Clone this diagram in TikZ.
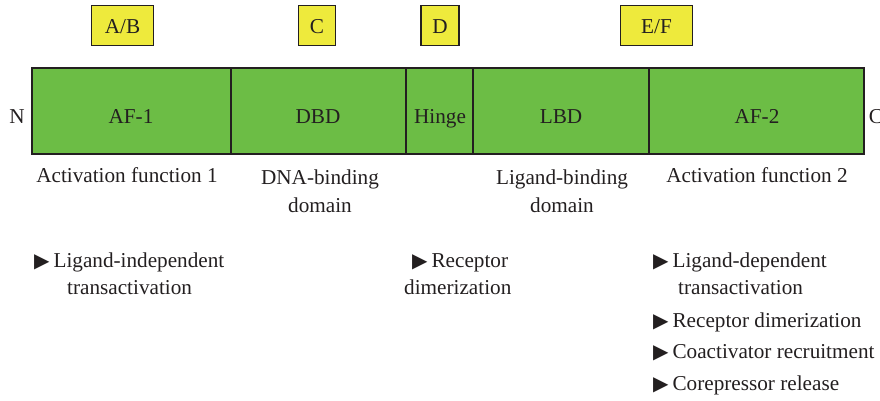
\documentclass[tikz,border=0pt]{standalone}
\usepackage{fontspec}
\setmainfont{Liberation Serif}
\newfontfamily\symfont{DejaVu Sans}
\definecolor{barG}{HTML}{6CBD45}
\definecolor{boxY}{HTML}{EEEA3C}
\definecolor{ink}{HTML}{231F20}
\newcommand{\bul}{{\symfont\fontsize{20}{20}\selectfont ▶}\hspace{4pt}}
\begin{document}
\begin{tikzpicture}[x=1pt,y=-1pt,
  every node/.style={text=ink,font=\fontsize{21.2}{25}\selectfont},
  seg/.style={draw=ink,line width=1.2pt,fill=barG,inner sep=0pt,outer sep=0pt,minimum height=86pt,anchor=north west},
  ybox/.style={draw=ink,line width=1.2pt,fill=boxY,inner sep=0pt,outer sep=0pt,minimum height=40pt,anchor=north west},
  lbl/.style={anchor=base,inner sep=0pt},
  lline/.style={anchor=base west,inner sep=0pt}]
\useasboundingbox (0,0) rectangle (880,400);
% bar segments
\node[seg,minimum width=199pt] (af1) at (32,68) {};
\node[seg,minimum width=175pt] (dbd) at (231,68) {};
\node[seg,minimum width=67pt] (hinge) at (406,68) {};
\node[seg,minimum width=176pt] (lbd) at (473,68) {};
\node[seg,minimum width=215pt] (af2) at (649,68) {};
\node[lbl] (taf1) at (131,123) {AF-1};
\node[lbl] (tdbd) at (318,123) {DBD};
\node[lbl] (thinge) at (440,123) {Hinge};
\node[lbl] (tlbd) at (561,123) {LBD};
\node[lbl] (taf2) at (757,123) {AF-2};
\node[lbl] (nterm) at (17,123) {N};
\node[lbl] (cterm) at (876,123) {C};
% yellow boxes
\node[ybox,minimum width=62pt] (ab) at (91.5,5.5) {};
\node[ybox,minimum width=37pt] (c) at (298.5,5.5) {};
\node[ybox,minimum width=38pt] (d) at (421,5.5) {};
\node[ybox,minimum width=72pt] (ef) at (620.5,5.5) {};
\node[lbl] at (ab.center|-0,33) (tab) {A/B};
\node[lbl] at (c.center|-0,33) (tc) {C};
\node[lbl] at (d.center|-0,33) (td) {D};
\node[lbl] at (ef.center|-0,33) (tef) {E/F};
% descriptions
\node[lbl] (desc1) at (127,182) {Activation function 1};
\node[lbl] (desc2a) at (320,184) {DNA-binding};
\node[lbl] (desc2b) at (320,212) {domain};
\node[lbl] (desc3a) at (562,184) {Ligand-binding};
\node[lbl] (desc3b) at (562,212) {domain};
\node[lbl] (desc4) at (757,182) {Activation function 2};
% functions
\node[lline] (f1a) at (34,267) {\bul Ligand-independent};
\node[lline] (f1b) at (67,294) {transactivation};
\node[lline] (f2a) at (412,267) {\bul Receptor};
\node[lline] (f2b) at (404,294) {dimerization};
\node[lline] (f3a) at (653,267) {\bul Ligand-dependent};
\node[lline] (f3b) at (678,294) {transactivation};
\node[lline] (f3c) at (653,327) {\bul Receptor dimerization};
\node[lline] (f3d) at (653,358) {\bul Coactivator recruitment};
\node[lline] (f3e) at (653,390) {\bul Corepressor release};
\end{tikzpicture}
\end{document}
